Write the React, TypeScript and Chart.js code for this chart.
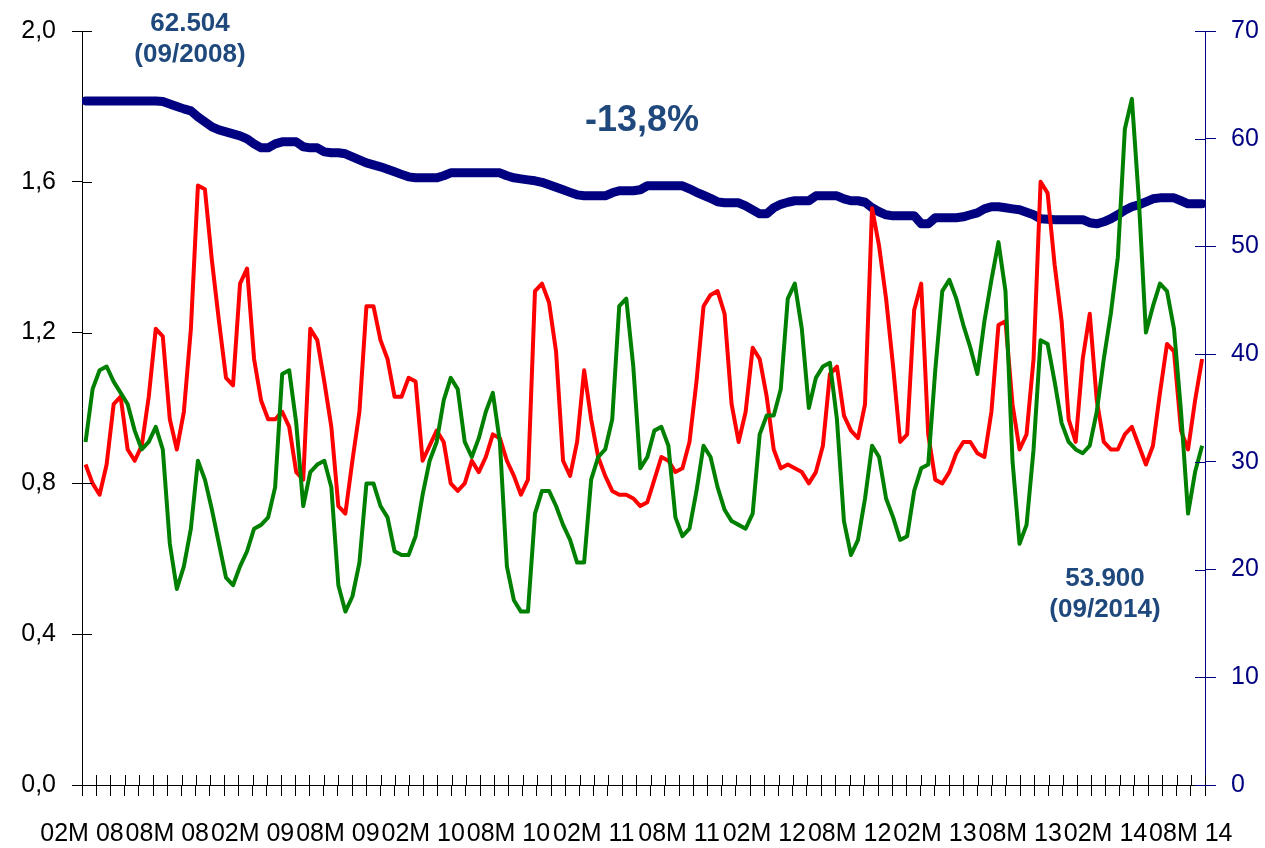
import React, { useEffect, useRef } from 'react';
import { Chart, registerables } from 'chart.js';

Chart.register(...registerables);

// Tick labels shown every 6 months on the monthly x axis (month 0 = 02M 08)
const xLabels = ['02M 08', '08M 08', '02M 09', '08M 09', '02M 10', '08M 10', '02M 11', '08M 11', '02M 12', '08M 12', '02M 13', '08M 13', '02M 14', '08M 14'];
const LABEL_EVERY = 6;
const MONTHS = 79;
// series sampled roughly every half month
const START_MONTH = 0.25;
const STEP_MONTH = 0.494;

const redSeries = [
  0.85, 0.80, 0.77, 0.85, 1.01, 1.03, 0.89, 0.86, 0.90, 1.03,
  1.21, 1.19, 0.97, 0.89, 0.99, 1.21, 1.59, 1.58, 1.39, 1.23,
  1.08, 1.06, 1.33, 1.37, 1.13, 1.02, 0.97, 0.97, 0.99, 0.95,
  0.83, 0.81, 1.21, 1.18, 1.07, 0.95, 0.74, 0.72, 0.86, 0.99,
  1.27, 1.27, 1.18, 1.13, 1.03, 1.03, 1.08, 1.07, 0.86, 0.90,
  0.94, 0.91, 0.80, 0.78, 0.80, 0.86, 0.83, 0.87, 0.93, 0.92,
  0.86, 0.82, 0.77, 0.81, 1.31, 1.33, 1.28, 1.15, 0.86, 0.82,
  0.91, 1.10, 0.97, 0.87, 0.82, 0.78, 0.77, 0.77, 0.76, 0.74,
  0.75, 0.81, 0.87, 0.86, 0.83, 0.84, 0.91, 1.07, 1.27, 1.30,
  1.31, 1.25, 1.01, 0.91, 0.99, 1.16, 1.13, 1.03, 0.89, 0.84,
  0.85, 0.84, 0.83, 0.80, 0.83, 0.90, 1.09, 1.11, 0.98, 0.94,
  0.92, 1.01, 1.53, 1.43, 1.29, 1.11, 0.91, 0.93, 1.26, 1.33,
  0.93, 0.81, 0.80, 0.83, 0.88, 0.91, 0.91, 0.88, 0.87, 0.99,
  1.22, 1.23, 1.01, 0.89, 0.93, 1.13, 1.60, 1.57, 1.38, 1.23,
  0.97, 0.91, 1.13, 1.25, 1.02, 0.91, 0.89, 0.89, 0.93, 0.95,
  0.90, 0.85, 0.90, 1.04, 1.17, 1.15, 0.94, 0.89, 1.02, 1.13,
];

const greenSeries = [
  0.91, 1.05, 1.10, 1.11, 1.07, 1.04, 1.01, 0.94, 0.89, 0.91,
  0.95, 0.89, 0.64, 0.52, 0.58, 0.68, 0.86, 0.81, 0.73, 0.64,
  0.55, 0.53, 0.58, 0.62, 0.68, 0.69, 0.71, 0.79, 1.09, 1.10,
  0.96, 0.74, 0.83, 0.85, 0.86, 0.79, 0.53, 0.46, 0.50, 0.59,
  0.80, 0.80, 0.74, 0.71, 0.62, 0.61, 0.61, 0.66, 0.77, 0.86,
  0.91, 1.02, 1.08, 1.05, 0.91, 0.87, 0.92, 0.99, 1.04, 0.91,
  0.58, 0.49, 0.46, 0.46, 0.72, 0.78, 0.78, 0.74, 0.69, 0.65,
  0.59, 0.59, 0.81, 0.87, 0.89, 0.97, 1.27, 1.29, 1.11, 0.84,
  0.87, 0.94, 0.95, 0.90, 0.71, 0.66, 0.68, 0.78, 0.90, 0.87,
  0.79, 0.73, 0.70, 0.69, 0.68, 0.72, 0.93, 0.98, 0.98, 1.05,
  1.29, 1.33, 1.21, 1.00, 1.08, 1.11, 1.12, 0.97, 0.70, 0.61,
  0.65, 0.76, 0.90, 0.87, 0.76, 0.71, 0.65, 0.66, 0.78, 0.84,
  0.85, 1.10, 1.31, 1.34, 1.29, 1.22, 1.16, 1.09, 1.23, 1.34,
  1.44, 1.31, 0.86, 0.64, 0.69, 0.89, 1.18, 1.17, 1.07, 0.96,
  0.91, 0.89, 0.88, 0.90, 0.99, 1.13, 1.25, 1.40, 1.74, 1.82,
  1.55, 1.20, 1.27, 1.33, 1.31, 1.21, 0.99, 0.72, 0.83, 0.90,
];

const blueSeries = [
  63.51, 63.51, 63.51, 63.51, 63.51, 63.51, 63.51, 63.51, 63.51, 63.51,
  63.51, 63.46, 63.23, 63.00, 62.77, 62.58, 62.03, 61.56, 61.10, 60.82,
  60.64, 60.45, 60.27, 59.99, 59.52, 59.15, 59.15, 59.52, 59.71, 59.71,
  59.71, 59.25, 59.15, 59.15, 58.78, 58.69, 58.69, 58.60, 58.32, 58.04,
  57.76, 57.57, 57.39, 57.16, 56.93, 56.69, 56.46, 56.37, 56.37, 56.37,
  56.37, 56.56, 56.83, 56.83, 56.83, 56.83, 56.83, 56.83, 56.83, 56.83,
  56.56, 56.37, 56.27, 56.18, 56.09, 55.95, 55.72, 55.49, 55.26, 55.02,
  54.79, 54.70, 54.70, 54.70, 54.70, 54.98, 55.17, 55.17, 55.17, 55.26,
  55.63, 55.63, 55.63, 55.63, 55.63, 55.63, 55.35, 55.02, 54.75, 54.47,
  54.14, 54.05, 54.05, 54.05, 53.77, 53.40, 53.03, 53.03, 53.59, 53.91,
  54.10, 54.24, 54.24, 54.24, 54.70, 54.70, 54.70, 54.70, 54.42, 54.24,
  54.24, 54.10, 53.59, 53.22, 52.94, 52.84, 52.84, 52.84, 52.84, 52.10,
  52.10, 52.66, 52.66, 52.66, 52.66, 52.75, 52.94, 53.12, 53.49, 53.68,
  53.68, 53.59, 53.49, 53.40, 53.17, 52.94, 52.57, 52.52, 52.48, 52.48,
  52.48, 52.48, 52.48, 52.20, 52.10, 52.29, 52.57, 52.94, 53.36, 53.68,
  53.87, 54.14, 54.42, 54.51, 54.51, 54.51, 54.24, 53.96, 53.96, 53.96,
];

const FONT = '"Liberation Sans", Arial, Helvetica, sans-serif';
const NOTE_COLOR = '#1F497D';
const NAVY = '#000080';

const toPoints = (arr: number[]) => arr.map((v, i) => ({ x: START_MONTH + STEP_MONTH * i, y: v }));

const crossTicksPlugin = {
  id: 'crossTicks',
  afterDraw(chart: any) {
    const { ctx, chartArea, scales } = chart;
    ctx.save();
    ctx.lineWidth = 1;
    const xs = scales.x;
    ctx.strokeStyle = '#000';
    xs.ticks.forEach((t: any) => {
      const px = Math.round(xs.getPixelForValue(t.value)) + 0.5;
      ctx.beginPath();
      ctx.moveTo(px, chartArea.bottom);
      ctx.lineTo(px, chartArea.bottom - 10);
      ctx.stroke();
    });
    const yl = scales.y;
    yl.ticks.forEach((t: any) => {
      const py = Math.round(yl.getPixelForValue(t.value)) + 0.5;
      ctx.beginPath();
      ctx.moveTo(chartArea.left, py);
      ctx.lineTo(chartArea.left + 10, py);
      ctx.stroke();
    });
    const yr = scales.y1;
    ctx.strokeStyle = NAVY;
    yr.ticks.forEach((t: any) => {
      const py = Math.round(yr.getPixelForValue(t.value)) + 0.5;
      ctx.beginPath();
      ctx.moveTo(chartArea.right, py);
      ctx.lineTo(chartArea.right - 10, py);
      ctx.stroke();
    });

    // text notes
    ctx.fillStyle = NOTE_COLOR;
    ctx.textAlign = 'center';
    ctx.textBaseline = 'middle';
    ctx.font = `bold 26px ${FONT}`;
    ctx.fillText('62.504', 190, 24);
    ctx.fillText('(09/2008)', 190, 55);
    ctx.fillText('53.900', 1105, 579);
    ctx.fillText('(09/2014)', 1105, 610);
    ctx.font = `bold 36px ${FONT}`;
    ctx.fillText('-13,8%', 642, 121);
    ctx.restore();
  },
};

export default function App() {
  const ref = useRef<HTMLCanvasElement | null>(null);

  useEffect(() => {
    if (!ref.current) return;
    const chart = new Chart(ref.current, {
      type: 'line',
      data: {
        datasets: [
          {
            label: 'green',
            data: toPoints(greenSeries),
            borderColor: '#008000',
            borderWidth: 4,
            pointRadius: 0,
            tension: 0,
            yAxisID: 'y',
            order: 1,
            borderJoinStyle: 'round',
          },
          {
            label: 'red',
            data: toPoints(redSeries),
            borderColor: '#FF0000',
            borderWidth: 4,
            pointRadius: 0,
            tension: 0,
            yAxisID: 'y',
            order: 2,
            borderJoinStyle: 'round',
          },
          {
            label: 'blue',
            data: toPoints(blueSeries),
            borderColor: NAVY,
            borderWidth: 9,
            pointRadius: 0,
            tension: 0,
            yAxisID: 'y1',
            order: 3,
            borderJoinStyle: 'round',
            borderCapStyle: 'round',
          },
        ],
      },
      options: {
        animation: false,
        responsive: false,
        devicePixelRatio: 1,
        layout: { padding: { top: 30, left: 0, right: 0, bottom: 0 } },
        plugins: { legend: { display: false }, tooltip: { enabled: false } },
        scales: {
          x: {
            type: 'linear',
            min: 0,
            max: MONTHS,
            afterFit: (s: any) => { s.height = 63; s.paddingLeft = 0; s.paddingRight = 0; },
            ticks: {
              stepSize: 1,
              maxTicksLimit: 500,
              autoSkip: false,
              maxRotation: 0,
              minRotation: 0,
              padding: 23,
              color: '#000',
              font: { family: FONT, size: 25 },
              callback: (v: any) => {
                const n = Math.round(Number(v));
                return n % LABEL_EVERY === 0 && xLabels[n / LABEL_EVERY] ? xLabels[n / LABEL_EVERY] : '';
              },
            },
            grid: { display: true, drawOnChartArea: false, drawTicks: true, tickLength: 11, color: '#000' },
            border: { display: true, color: '#000', width: 1 },
          },
          y: {
            type: 'linear',
            position: 'left',
            min: 0,
            max: 2,
            afterFit: (s: any) => { s.width = 82; },
            ticks: {
              stepSize: 0.4,
              maxTicksLimit: 50,
              padding: 16,
              color: '#000',
              font: { family: FONT, size: 25 },
              callback: (v: any) => Number(v).toFixed(1).replace('.', ','),
            },
            grid: { display: true, drawOnChartArea: false, drawTicks: true, tickLength: 10, color: '#000' },
            border: { display: true, color: '#000', width: 1 },
          },
          y1: {
            type: 'linear',
            position: 'right',
            min: 0,
            max: 70,
            afterFit: (s: any) => { s.width = 60; },
            ticks: {
              stepSize: 10,
              maxTicksLimit: 50,
              padding: 15,
              color: NAVY,
              font: { family: FONT, size: 25 },
            },
            grid: { display: true, drawOnChartArea: false, drawTicks: true, tickLength: 11, color: NAVY },
            border: { display: true, color: NAVY, width: 1 },
          },
        },
      },
      plugins: [crossTicksPlugin],
    } as any);
    return () => chart.destroy();
  }, []);

  return (
    <div style={{ position: 'absolute', left: 0, top: 0, width: 1265, height: 848, background: '#fff' }}>
      <canvas ref={ref} width={1265} height={848} style={{ display: 'block' }} />
    </div>
  );
}
